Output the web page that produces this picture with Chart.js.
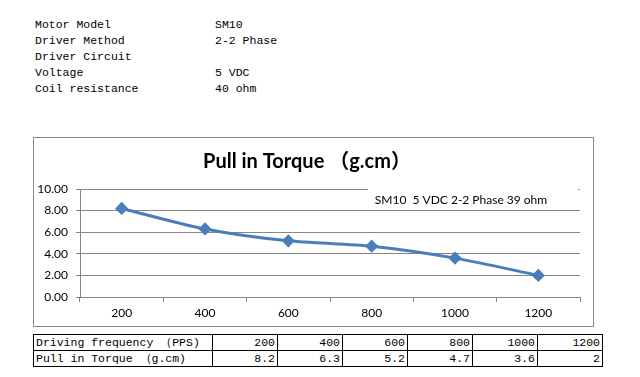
<!DOCTYPE html>
<html>
<head>
<meta charset="utf-8">
<script src="https://cdn.jsdelivr.net/npm/chart.js@4"></script>
<style>
  body { margin: 0; background: #fff; width: 640px; height: 377px; position: relative; overflow: hidden; }
  .info { position: absolute; left: 35px; top: 17px; font: 11.5px "Liberation Mono", monospace; color: #000; }
  .info div { height: 16px; line-height: 16px; white-space: pre; }
  .info span { display: inline-block; width: 180px; }
  #box { position: absolute; left: 33px; top: 137px; width: 561px; height: 190px; border: 1px solid #888; box-sizing: border-box; }
  table { position: absolute; left: 33px; top: 334px; border-collapse: collapse; font: 11.5px "Liberation Mono", monospace; }
  td { border: 1px solid #000; height: 15px; padding: 0 2px; line-height: 15px; text-align: right; width: 60px; }
  td.h { text-align: left; width: 174px; white-space: pre; }
</style>
</head>
<body>
<div class="info">
  <div><span>Motor Model</span>SM10</div>
  <div><span>Driver Method</span>2-2 Phase</div>
  <div><span>Driver Circuit</span></div>
  <div><span>Voltage</span>5 VDC</div>
  <div><span>Coil resistance</span>40 ohm</div>
</div>
<div id="box"><canvas id="graf"></canvas></div>
<table id="tab"></table>
<script>
const frequencias = ["200", "400", "600", "800", "1000", "1200"];
const torque = [8.2, 6.3, 5.2, 4.7, 3.6, 2];
const serie = "SM10  5 VDC 2-2 Phase 39 ohm";
const titulo = "Pull in Torque （g.cm）";

// tabela de baixo
const tab = document.getElementById("tab");
tab.innerHTML = `
  <tr><td class="h">Driving frequency （PPS)</td>${frequencias.map(f => `<td>${f}</td>`).join("")}</tr>
  <tr><td class="h">Pull in Torque （g.cm)</td>${torque.map(t => `<td>${t}</td>`).join("")}</tr>
`;

// caixa de texto da serie
const caixaSerie = {
  id: "caixaSerie",
  afterDraw(chart) {
    const ctx = chart.ctx;
    const a = chart.chartArea;
    ctx.save();
    ctx.fillStyle = "#fff";
    ctx.fillRect(a.right - 212, a.top - 6, 210, 24);
    ctx.fillStyle = "#000";
    ctx.font = "12px Lato, sans-serif";
    ctx.textAlign = "center";
    ctx.textBaseline = "middle";
    ctx.fillText(chart.data.datasets[0].label, a.right - 119, a.top + 11);
    ctx.restore();
  }
};

new Chart(document.getElementById("graf"), {
  type: "line",
  data: {
    labels: frequencias,
    datasets: [{
      label: serie,
      data: torque,
      borderColor: "#4a7ebb",
      backgroundColor: "#4a7ebb",
      borderWidth: 3,
      pointStyle: "rectRot",
      pointRadius: 4.5,
      tension: 0.25
    }]
  },
  options: {
    responsive: true,
    maintainAspectRatio: false,
    animation: false,
    layout: { padding: { left: 0, right: 13, top: 0, bottom: 0 } },
    plugins: {
      legend: { display: false },
      tooltip: { enabled: false },
      title: {
        display: true,
        text: titulo,
        color: "#000",
        font: { family: "Lato, 'Noto Sans CJK SC', sans-serif", size: 20, weight: "bold" },
        padding: { top: 12, bottom: 15 }
      }
    },
    scales: {
      x: {
        offset: true,
        afterFit(s) { s.height = 29; },
        grid: { offset: true, drawOnChartArea: false, tickLength: 5, color: "#868686" },
        border: { color: "#868686" },
        ticks: { color: "#000", padding: 4, font: { family: "Lato", size: 12 } }
      },
      y: {
        min: 0,
        max: 10,
        afterFit(s) { s.width = 46; },
        grid: { color: "#868686", tickLength: 4 },
        border: { color: "#868686" },
        ticks: {
          stepSize: 2,
          color: "#000",
          padding: 8,
          font: { family: "Lato", size: 12 },
          callback: v => v.toFixed(2)
        }
      }
    }
  },
  plugins: [caixaSerie]
});
</script>
</body>
</html>
